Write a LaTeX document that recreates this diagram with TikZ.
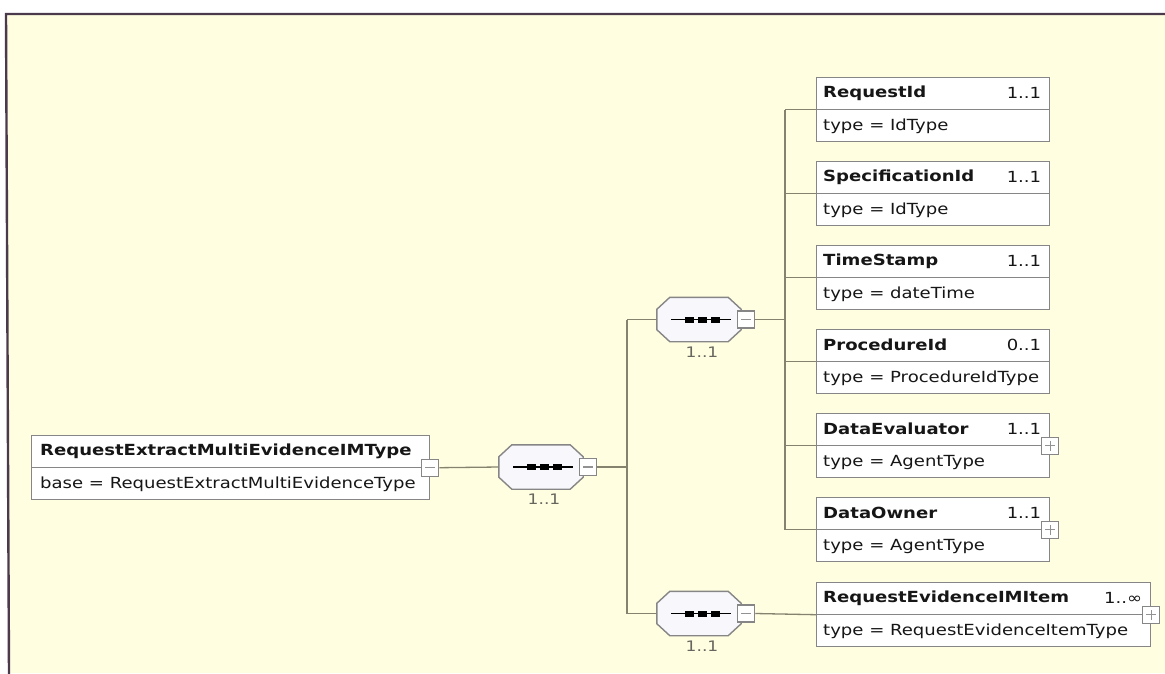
\documentclass[tikz,border=0pt]{standalone}
\usepackage{fontspec}
\setmainfont{DejaVu Sans}[FakeStretch=1.18]
\definecolor{bgyel}{HTML}{FFFEE1}
\definecolor{framec}{HTML}{4A3A4C}
\definecolor{boxgray}{HTML}{868686}
\definecolor{linec}{HTML}{85836E}
\definecolor{txt}{HTML}{161616}
\definecolor{octfill}{HTML}{F8F8FC}
\definecolor{multgray}{HTML}{66665E}
\tikzset{
  elbox/.style={draw=boxgray, fill=white, line width=1.4pt, minimum height=64, inner sep=0pt, anchor=north west},
  divline/.style={draw=boxgray, line width=1.3pt},
  titletext/.style={font=\fontsize{15.3}{18}\selectfont\bfseries, text=txt, inner sep=0pt, anchor=west},
  multtext/.style={font=\fontsize{15.3}{18}\selectfont, text=txt, inner sep=0pt, anchor=east},
  typetext/.style={font=\fontsize{15.3}{18}\selectfont, text=txt, inner sep=0pt, anchor=west},
  pmbox/.style={draw=boxgray, fill=white, line width=1.1pt, minimum width=17, minimum height=17, inner sep=0pt},
  pmsym/.style={draw=boxgray!90, line width=1.1pt},
  seqbody/.style={draw=none, minimum width=84, minimum height=44, inner sep=0pt},
  octo/.style={draw=boxgray, fill=octfill, line width=1.4pt},
  seqsym/.style={draw=black, line width=1.3pt},
  cmult/.style={font=\fontsize{14.5}{16}\selectfont, text=multgray, inner sep=0pt, anchor=north},
  conn/.style={draw=linec, line width=1.3pt},
}
% element box: name, x, y, width, title, multiplicity, type text
\newcommand\elembox[7]{%
  \node[elbox, minimum width=#4] (#1) at (#2,#3) {};
  \draw[divline] (#1.west) -- (#1.east);
  \node[titletext] (#1-n) at ([shift={(7pt,-16pt)}]#1.north west) {#5};
  \node[multtext] (#1-m) at ([shift={(-9pt,-16pt)}]#1.north east) {#6};
  \begin{scope}
    \clip ([shift={(0.7pt,-0.7pt)}]#1.west) rectangle ([shift={(-0.7pt,0.7pt)}]#1.south east);
    \node[typetext] (#1-t) at ([shift={(7pt,16pt)}]#1.south west) {#7};
  \end{scope}
}
\newcommand\plusbox[1]{%
  \node[pmbox] (#1-p) at (#1.east) {};
  \draw[pmsym] ([xshift=-5pt]#1-p.center) -- ([xshift=5pt]#1-p.center);
  \draw[pmsym] ([yshift=-5pt]#1-p.center) -- ([yshift=5pt]#1-p.center);
}
\newcommand\minusbox[2]{% node name, at
  \node[pmbox] (#1) at (#2) {};
  \draw[pmsym] ([xshift=-5pt]#1.center) -- ([xshift=5pt]#1.center);
}
% sequence compositor: name, cx, cy, multiplicity
\newcommand\compo[4]{%
  \node[seqbody] (#1) at (#2,#3) {};
  \draw[octo] ([xshift=13pt]#1.north west) -- ([xshift=-13pt]#1.north east)
     -- ([yshift=-12pt]#1.north east) -- ([yshift=12pt]#1.south east)
     -- ([xshift=-13pt]#1.south east) -- ([xshift=13pt]#1.south west)
     -- ([yshift=12pt]#1.south west) -- ([yshift=-12pt]#1.north west) -- cycle;
  \draw[seqsym] ([xshift=-28pt]#1.center) -- ([xshift=32pt]#1.center);
  \foreach \dx in {-10,3,16}{
    \fill[black] ([shift={(\dx pt-4.5pt,-3pt)}]#1.center) rectangle ([shift={(\dx pt+4.5pt,3pt)}]#1.center);
  }
  \minusbox{#1-m}{[xshift=5pt]#1.east}
  \node[cmult] (#1-l) at ([shift={(3pt,-5pt)}]#1.south) {#4};
}
\begin{document}
\begin{tikzpicture}[x=1pt, y=-1pt]
\useasboundingbox (0,0) rectangle (1165,673);
\fill[white] (0,0) rectangle (1165,673);
\fill[bgyel] (6,14) -- (1165,14) -- (1165,673) -- (9,673) -- cycle;
\draw[framec, line width=2.4pt] (9,674) -- (6,14) -- (1166,14);

% root
\node[elbox, minimum width=398] (root) at (31,435) {};
\draw[divline] (root.west) -- (root.east);
\node[titletext] (root-n) at ([shift={(9pt,-16pt)}]root.north west) {RequestExtractMultiEvidenceIMType};
\node[typetext] (root-t) at ([shift={(9pt,16pt)}]root.south west) {base = RequestExtractMultiEvidenceType};
\minusbox{root-p}{root.east}

% compositors
\compo{s1}{541}{467}{1..1}
\compo{s2}{699}{319.5}{1..1}
\compo{s3}{699}{613.5}{1..1}

% elements
\elembox{e1}{816}{77}{233}{RequestId}{1..1}{type = IdType}
\elembox{e2}{816}{161}{233}{SpecificationId}{1..1}{type = IdType}
\elembox{e3}{816}{245}{233}{TimeStamp}{1..1}{type = dateTime}
\elembox{e4}{816}{329}{233}{ProcedureId}{0..1}{type = ProcedureIdType}
\elembox{e5}{816}{413}{233}{DataEvaluator}{1..1}{type = AgentType}
\elembox{e6}{816}{497}{233}{DataOwner}{1..1}{type = AgentType}
\elembox{e7}{816}{582}{334}{RequestEvidenceIMItem}{1..∞}{type = RequestEvidenceItemType}

% connectors
\coordinate (j1) at (627,0);
\coordinate (j2) at (785,0);
\draw[conn] (root-p.east) -- (s1.west);
\draw[conn] (s1-m.east) -- (s1-m.east -| j1);
\draw[conn] (s2.west -| j1) -- (s3.west -| j1);
\draw[conn] (s2.west -| j1) -- (s2.west);
\draw[conn] (s3.west -| j1) -- (s3.west);
\draw[conn] (s2-m.east) -- (s2-m.east -| j2);
\draw[conn] (e1.west -| j2) -- (e6.west -| j2);
\foreach \e in {e1,e2,e3,e4,e5,e6}{
  \draw[conn] (\e.west -| j2) -- (\e.west);
}
\draw[conn] (s3-m.east) -- (e7.west);

\plusbox{e5}
\plusbox{e6}
\plusbox{e7}
\end{tikzpicture}
\end{document}
